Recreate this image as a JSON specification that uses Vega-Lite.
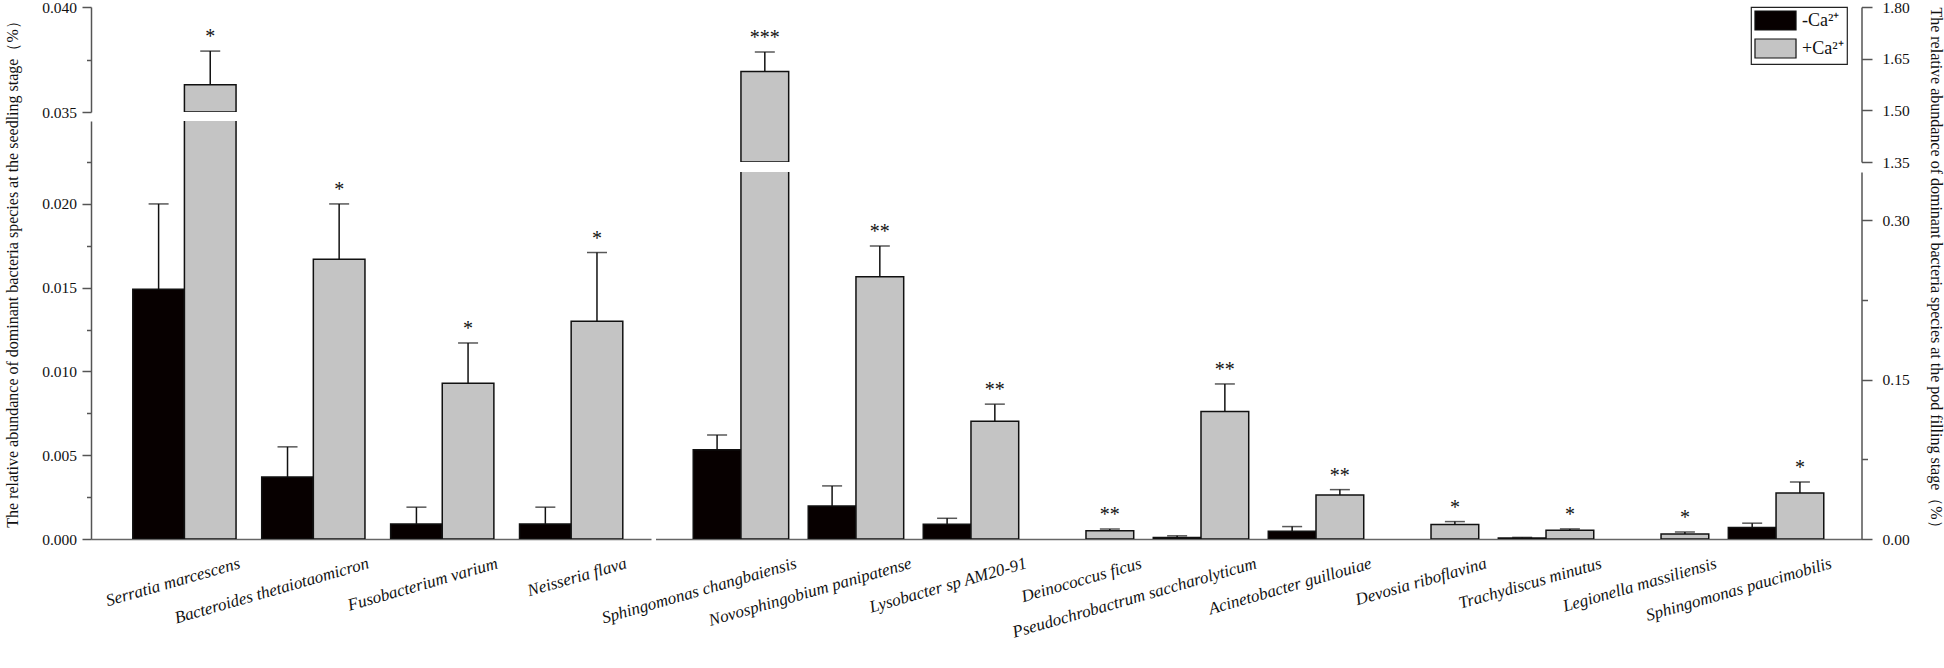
{
  "$schema": "https://vega.github.io/schema/vega-lite/v6.json",
  "background": "white",
  "autosize": {"type": "pad"},
  "padding": {"left": 3, "top": 0, "right": 0, "bottom": 0},
  "config": {
    "view": {"stroke": null},
    "font": "Liberation Serif",
    "axis": {"labelFont": "Liberation Serif", "titleFont": "Liberation Serif", "labelColor": "#111", "titleColor": "#111", "domainColor": "#555", "tickColor": "#555", "domainWidth": 1.5, "tickWidth": 1.5, "grid": false, "titleFontWeight": "normal", "labelFontSize": 15.5, "titleFontSize": 16},
    "legend": {"orient": "none", "legendX": 1660, "legendY": 0, "symbolType": "M-2.16,-1H2.16V1H-2.16Z", "symbolSize": 361, "symbolStrokeColor": "#111", "symbolStrokeWidth": 1.2, "symbolOffset": 11, "labelOffset": 16, "labelFont": "Liberation Serif", "labelFontSize": 18, "labelColor": "#111", "strokeColor": "#222", "strokeWidth": 1.2, "padding": 3, "rowPadding": 3, "fillColor": "white", "symbolOpacity": 1}
  },
  "datasets": {
    "seedling": [
      {"species": "Serratia marcescens", "treatment": "-Ca²⁺", "value": 0.0149, "upper": 0.0200, "sig": ""},
      {"species": "Serratia marcescens", "treatment": "+Ca²⁺", "value": 0.0363, "upper": 0.0379, "sig": "*"},
      {"species": "Bacteroides thetaiotaomicron", "treatment": "-Ca²⁺", "value": 0.0037, "upper": 0.0055, "sig": ""},
      {"species": "Bacteroides thetaiotaomicron", "treatment": "+Ca²⁺", "value": 0.0167, "upper": 0.0200, "sig": "*"},
      {"species": "Fusobacterium varium", "treatment": "-Ca²⁺", "value": 0.0009, "upper": 0.0019, "sig": ""},
      {"species": "Fusobacterium varium", "treatment": "+Ca²⁺", "value": 0.0093, "upper": 0.0117, "sig": "*"},
      {"species": "Neisseria flava", "treatment": "-Ca²⁺", "value": 0.0009, "upper": 0.0019, "sig": ""},
      {"species": "Neisseria flava", "treatment": "+Ca²⁺", "value": 0.0130, "upper": 0.0171, "sig": "*"}
    ],
    "pod": [
      {"species": "Sphingomonas changbaiensis", "treatment": "-Ca²⁺", "value": 0.084, "upper": 0.098, "sig": ""},
      {"species": "Sphingomonas changbaiensis", "treatment": "+Ca²⁺", "value": 1.613, "upper": 1.669, "sig": "***"},
      {"species": "Novosphingobium panipatense", "treatment": "-Ca²⁺", "value": 0.031, "upper": 0.050, "sig": ""},
      {"species": "Novosphingobium panipatense", "treatment": "+Ca²⁺", "value": 0.247, "upper": 0.276, "sig": "**"},
      {"species": "Lysobacter sp AM20-91", "treatment": "-Ca²⁺", "value": 0.014, "upper": 0.0195, "sig": ""},
      {"species": "Lysobacter sp AM20-91", "treatment": "+Ca²⁺", "value": 0.111, "upper": 0.127, "sig": "**"},
      {"species": "Deinococcus ficus", "treatment": "-Ca²⁺", "value": 0, "upper": 0, "sig": ""},
      {"species": "Deinococcus ficus", "treatment": "+Ca²⁺", "value": 0.0077, "upper": 0.0094, "sig": "**"},
      {"species": "Pseudochrobactrum saccharolyticum", "treatment": "-Ca²⁺", "value": 0.0013, "upper": 0.003, "sig": ""},
      {"species": "Pseudochrobactrum saccharolyticum", "treatment": "+Ca²⁺", "value": 0.120, "upper": 0.146, "sig": "**"},
      {"species": "Acinetobacter guillouiae", "treatment": "-Ca²⁺", "value": 0.0073, "upper": 0.0117, "sig": ""},
      {"species": "Acinetobacter guillouiae", "treatment": "+Ca²⁺", "value": 0.0414, "upper": 0.0465, "sig": "**"},
      {"species": "Devosia riboflavina", "treatment": "-Ca²⁺", "value": 0, "upper": 0, "sig": ""},
      {"species": "Devosia riboflavina", "treatment": "+Ca²⁺", "value": 0.0136, "upper": 0.0164, "sig": "*"},
      {"species": "Trachydiscus minutus", "treatment": "-Ca²⁺", "value": 0.001, "upper": 0.0015, "sig": ""},
      {"species": "Trachydiscus minutus", "treatment": "+Ca²⁺", "value": 0.0082, "upper": 0.0095, "sig": "*"},
      {"species": "Legionella massiliensis", "treatment": "-Ca²⁺", "value": 0, "upper": 0, "sig": ""},
      {"species": "Legionella massiliensis", "treatment": "+Ca²⁺", "value": 0.0047, "upper": 0.0066, "sig": "*"},
      {"species": "Sphingomonas paucimobilis", "treatment": "-Ca²⁺", "value": 0.0108, "upper": 0.0149, "sig": ""},
      {"species": "Sphingomonas paucimobilis", "treatment": "+Ca²⁺", "value": 0.0433, "upper": 0.0537, "sig": "*"}
    ]
  },
  "spacing": -52.5,
  "bounds": "full",
  "resolve": {"scale": {"x": "independent", "xOffset": "independent", "y": "independent"}},
  "hconcat": [
    {
      "spacing": 9,
      "bounds": "flush",
      "resolve": {"scale": {"x": "independent", "xOffset": "independent", "y": "independent"}},
      "vconcat": [
        {
          "width": 560, "height": 105,
          "data": {"name": "seedling"},
          "encoding": {
            "x": {"field": "species", "type": "nominal", "sort": null, "scale": {"domain": ["Serratia marcescens", "Bacteroides thetaiotaomicron", "Fusobacterium varium", "Neisseria flava"], "paddingInner": 0.199, "paddingOuter": 0.2715, "align": 0.597}, "axis": null},
            "xOffset": {"field": "treatment", "type": "nominal", "sort": null, "scale": {"domain": ["-Ca²⁺", "+Ca²⁺"]}}
          },
          "layer": [
            {"transform": [{"filter": "datum.value > 0.035"}], "mark": {"type": "bar", "clip": true, "stroke": "#111", "strokeWidth": 1.5},
             "encoding": {
               "y": {"field": "value", "type": "quantitative", "scale": {"domain": [0.035, 0.040], "nice": false, "zero": false},
                     "axis": {"title": null, "values": [0.035, 0.0375, 0.04], "labelExpr": "round(datum.value*10000)%50==0 ? format(datum.value,'.3f') : ''", "tickSize": {"condition": {"test": "round(datum.value*10000)%50 != 0", "value": 4.5}, "value": 9}, "labelPadding": 5.5}},
               "y2": {"datum": 0.035},
               "color": {"field": "treatment", "type": "nominal", "title": null, "sort": null, "scale": {"domain": ["-Ca²⁺", "+Ca²⁺"], "range": ["#070000", "#c4c4c4"]}}
             }},
            {"transform": [{"filter": "datum.upper > datum.value && datum.value >= 0.035"}], "mark": {"type": "rule", "clip": true, "color": "#111", "strokeWidth": 1.5},
             "encoding": {"y": {"field": "value", "type": "quantitative"}, "y2": {"field": "upper"}}},
            {"transform": [{"filter": "datum.upper > datum.value && datum.value >= 0.035"}], "mark": {"type": "tick", "clip": true, "orient": "horizontal", "thickness": 1.5, "color": "#111"},
             "encoding": {"y": {"field": "upper", "type": "quantitative"}, "size": {"value": 20}}},
            {"transform": [{"filter": "datum.sig != '' && datum.upper >= 0.035"}], "mark": {"type": "text", "fontSize": 20, "dy": -8, "baseline": "alphabetic", "font": "Liberation Serif", "color": "#111"},
             "encoding": {"y": {"field": "upper", "type": "quantitative"}, "text": {"field": "sig"}}}
          ]
        },
        {
          "width": 560, "height": 418,
          "data": {"name": "seedling"},
          "encoding": {
            "x": {"field": "species", "type": "nominal", "sort": null, "scale": {"domain": ["Serratia marcescens", "Bacteroides thetaiotaomicron", "Fusobacterium varium", "Neisseria flava"], "paddingInner": 0.199, "paddingOuter": 0.2715, "align": 0.597},
                  "axis": {"title": null, "ticks": false, "domainColor": "#666", "labelAngle": -16, "labelAlign": "right", "labelBaseline": "top", "labelFontStyle": "italic", "labelFontSize": 17, "labelPadding": 16, "labelOffset": 53, "labelLimit": 0, "labelOverlap": false}},
            "xOffset": {"field": "treatment", "type": "nominal", "sort": null, "scale": {"domain": ["-Ca²⁺", "+Ca²⁺"]}}
          },
          "layer": [
            {"transform": [{"filter": "datum.value > 0"}], "mark": {"type": "bar", "clip": true, "stroke": "#111", "strokeWidth": 1.5},
             "encoding": {
               "y": {"field": "value", "type": "quantitative", "scale": {"domain": [0, 0.02495], "nice": false},
                     "axis": {"title": "The relative abundance of dominant bacteria species at the seedling stage（%）", "titleAngle": -90, "titleX": -71, "titleY": 149, "titleBaseline": "bottom", "titleAlign": "center",
                              "values": [0, 0.0025, 0.005, 0.0075, 0.01, 0.0125, 0.015, 0.0175, 0.02, 0.0225], "labelExpr": "round(datum.value*10000)%50==0 ? format(datum.value,'.3f') : ''", "tickSize": {"condition": {"test": "round(datum.value*10000)%50 != 0", "value": 4.5}, "value": 9}, "labelPadding": 5.5}},
               "color": {"field": "treatment", "type": "nominal", "title": null, "sort": null, "scale": {"domain": ["-Ca²⁺", "+Ca²⁺"], "range": ["#070000", "#c4c4c4"]}}
             }},
            {"transform": [{"filter": "datum.upper > datum.value && datum.upper <= 0.025"}], "mark": {"type": "rule", "clip": true, "color": "#111", "strokeWidth": 1.5},
             "encoding": {"y": {"field": "value", "type": "quantitative"}, "y2": {"field": "upper"}}},
            {"transform": [{"filter": "datum.upper > datum.value && datum.upper <= 0.025"}], "mark": {"type": "tick", "clip": true, "orient": "horizontal", "thickness": 1.5, "color": "#111"},
             "encoding": {"y": {"field": "upper", "type": "quantitative"}, "size": {"value": 20}}},
            {"transform": [{"filter": "datum.sig != '' && datum.upper <= 0.025"}], "mark": {"type": "text", "fontSize": 20, "dy": -8, "baseline": "alphabetic", "font": "Liberation Serif", "color": "#111"},
             "encoding": {"y": {"field": "upper", "type": "quantitative"}, "text": {"field": "sig"}}}
          ]
        }
      ]
    },
    {
      "spacing": 10,
      "bounds": "flush",
      "resolve": {"scale": {"x": "independent", "xOffset": "independent", "y": "independent"}},
      "vconcat": [
        {
          "width": 1206, "height": 155,
          "data": {"name": "pod"},
          "encoding": {
            "x": {"field": "species", "type": "nominal", "sort": null, "scale": {"domain": ["Sphingomonas changbaiensis", "Novosphingobium panipatense", "Lysobacter sp AM20-91", "Deinococcus ficus", "Pseudochrobactrum saccharolyticum", "Acinetobacter guillouiae", "Devosia riboflavina", "Trachydiscus minutus", "Legionella massiliensis", "Sphingomonas paucimobilis"], "paddingInner": 0.17, "paddingOuter": 0.328, "align": 0.5}, "axis": null},
            "xOffset": {"field": "treatment", "type": "nominal", "sort": null, "scale": {"domain": ["-Ca²⁺", "+Ca²⁺"]}}
          },
          "layer": [
            {"transform": [{"filter": "datum.value > 1.35"}], "mark": {"type": "bar", "clip": true, "stroke": "#111", "strokeWidth": 1.5},
             "encoding": {
               "y": {"field": "value", "type": "quantitative", "scale": {"domain": [1.35, 1.8], "nice": false, "zero": false},
                     "axis": {"orient": "right", "title": null, "values": [1.35, 1.425, 1.5, 1.575, 1.65, 1.725, 1.8], "labelExpr": "round(datum.value*1000)%150==0 ? format(datum.value,'.2f') : ''", "tickSize": {"condition": {"test": "round(datum.value*1000)%150 != 0", "value": 6}, "value": 10.5}, "labelPadding": 10}},
               "y2": {"datum": 1.35},
               "color": {"field": "treatment", "type": "nominal", "title": null, "sort": null, "scale": {"domain": ["-Ca²⁺", "+Ca²⁺"], "range": ["#070000", "#c4c4c4"]}}
             }},
            {"transform": [{"filter": "datum.upper > datum.value && datum.value >= 1.35"}], "mark": {"type": "rule", "clip": true, "color": "#111", "strokeWidth": 1.5},
             "encoding": {"y": {"field": "value", "type": "quantitative"}, "y2": {"field": "upper"}}},
            {"transform": [{"filter": "datum.upper > datum.value && datum.value >= 1.35"}], "mark": {"type": "tick", "clip": true, "orient": "horizontal", "thickness": 1.5, "color": "#111"},
             "encoding": {"y": {"field": "upper", "type": "quantitative"}, "size": {"value": 20}}},
            {"transform": [{"filter": "datum.sig != '' && datum.upper >= 1.35"}], "mark": {"type": "text", "fontSize": 20, "dy": -8, "baseline": "alphabetic", "font": "Liberation Serif", "color": "#111"},
             "encoding": {"y": {"field": "upper", "type": "quantitative"}, "text": {"field": "sig"}}}
          ]
        },
        {
          "width": 1206, "height": 367,
          "data": {"name": "pod"},
          "encoding": {
            "x": {"field": "species", "type": "nominal", "sort": null, "scale": {"domain": ["Sphingomonas changbaiensis", "Novosphingobium panipatense", "Lysobacter sp AM20-91", "Deinococcus ficus", "Pseudochrobactrum saccharolyticum", "Acinetobacter guillouiae", "Devosia riboflavina", "Trachydiscus minutus", "Legionella massiliensis", "Sphingomonas paucimobilis"], "paddingInner": 0.17, "paddingOuter": 0.328, "align": 0.5},
                  "axis": {"title": null, "ticks": false, "domainColor": "#666", "labelAngle": -16, "labelAlign": "right", "labelBaseline": "top", "labelFontStyle": "italic", "labelFontSize": 17, "labelPadding": 16, "labelOffset": 53, "labelLimit": 0, "labelOverlap": false}},
            "xOffset": {"field": "treatment", "type": "nominal", "sort": null, "scale": {"domain": ["-Ca²⁺", "+Ca²⁺"]}}
          },
          "layer": [
            {"transform": [{"filter": "datum.value > 0"}], "mark": {"type": "bar", "clip": true, "stroke": "#111", "strokeWidth": 1.5},
             "encoding": {
               "y": {"field": "value", "type": "quantitative", "scale": {"domain": [0, 0.3456], "nice": false},
                     "axis": {"orient": "right", "title": "The relative abundance of dominant bacteria species at the pod filling stage（%）", "titleAngle": 90, "titleX": 66, "titleY": 99, "titleBaseline": "bottom", "titleAlign": "center",
                              "values": [0, 0.075, 0.15, 0.225, 0.3], "labelExpr": "round(datum.value*1000)%150==0 ? format(datum.value,'.2f') : ''", "tickSize": {"condition": {"test": "round(datum.value*1000)%150 != 0", "value": 6}, "value": 10.5}, "labelPadding": 10}},
               "color": {"field": "treatment", "type": "nominal", "title": null, "sort": null, "scale": {"domain": ["-Ca²⁺", "+Ca²⁺"], "range": ["#070000", "#c4c4c4"]}}
             }},
            {"transform": [{"filter": "datum.upper > datum.value && datum.upper <= 0.3456"}], "mark": {"type": "rule", "clip": true, "color": "#111", "strokeWidth": 1.5},
             "encoding": {"y": {"field": "value", "type": "quantitative"}, "y2": {"field": "upper"}}},
            {"transform": [{"filter": "datum.upper > datum.value && datum.upper <= 0.3456"}], "mark": {"type": "tick", "clip": true, "orient": "horizontal", "thickness": 1.5, "color": "#111"},
             "encoding": {"y": {"field": "upper", "type": "quantitative"}, "size": {"value": 20}}},
            {"transform": [{"filter": "datum.sig != '' && datum.upper <= 0.3456"}], "mark": {"type": "text", "fontSize": 20, "dy": -8, "baseline": "alphabetic", "font": "Liberation Serif", "color": "#111"},
             "encoding": {"y": {"field": "upper", "type": "quantitative"}, "text": {"field": "sig"}}}
          ]
        }
      ]
    }
  ]
}
